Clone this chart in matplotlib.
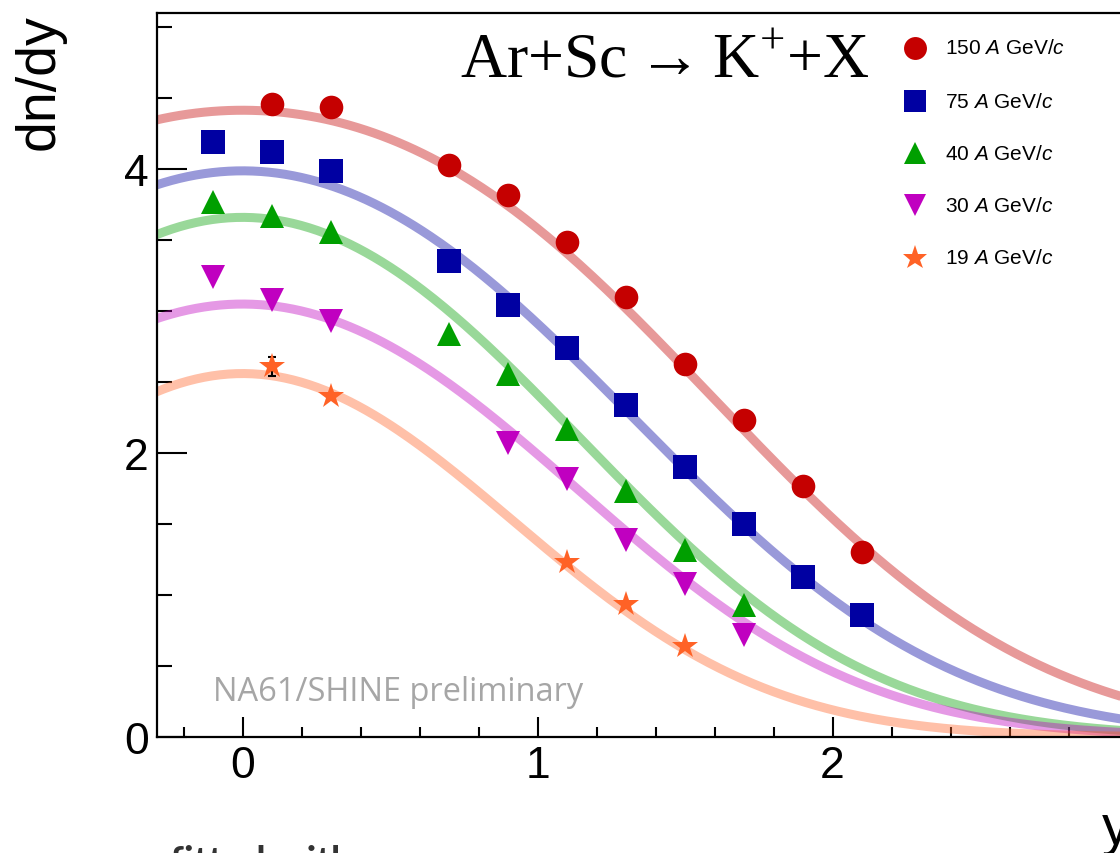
import numpy as np
import matplotlib.pyplot as plt
from matplotlib.ticker import MultipleLocator, FixedLocator

plt.rcParams['mathtext.fontset'] = 'custom'
plt.rcParams['mathtext.rm'] = 'Liberation Serif'
plt.rcParams['mathtext.it'] = 'Liberation Sans:italic'

# K+ rapidity spectra, Ar+Sc
energies = ['150', '75', '40', '30', '19']
colors = ['#c50000', '#0000a2', '#009f00', '#c000c0', '#ff6226']
markers = ['o', 's', '^', 'v', '*']
msizes = [17, 17, 17, 17, 19]

y_150 = [0.1, 0.3, 0.7, 0.9, 1.1, 1.3, 1.5, 1.7, 1.9, 2.1]
dndy_150 = [4.46, 4.44, 4.03, 3.82, 3.49, 3.10, 2.63, 2.23, 1.77, 1.30]

y_75 = [-0.1, 0.1, 0.3, 0.7, 0.9, 1.1, 1.3, 1.5, 1.7, 1.9, 2.1]
dndy_75 = [4.19, 4.12, 3.99, 3.35, 3.04, 2.74, 2.34, 1.90, 1.50, 1.13, 0.86]

y_40 = [-0.1, 0.1, 0.3, 0.7, 0.9, 1.1, 1.3, 1.5, 1.7]
dndy_40 = [3.77, 3.67, 3.56, 2.84, 2.56, 2.17, 1.73, 1.32, 0.93]

y_30 = [-0.1, 0.1, 0.3, 0.9, 1.1, 1.3, 1.5, 1.7]
dndy_30 = [3.24, 3.08, 2.93, 2.07, 1.82, 1.39, 1.08, 0.72]

y_19 = [0.1, 0.3, 1.1, 1.3, 1.5]
dndy_19 = [2.61, 2.40, 1.23, 0.94, 0.64]
err_19 = [0.065, 0.0, 0.0, 0.0, 0.0]

rap = [y_150, y_75, y_40, y_30, y_19]
dndy = [dndy_150, dndy_75, dndy_40, dndy_30, dndy_19]

# double-Gaussian fit parameters: A, y0, sigma
fit_amp = [3.04, 2.52, 2.235, 1.88, 1.46]
fit_y0 = [0.80, 0.65, 0.55, 0.55, 0.40]
fit_sigma = [1.00, 0.95, 0.87, 0.85, 0.78]


def double_gauss(y, a, y0, s):
    return a * (np.exp(-(y - y0) ** 2 / (2 * s ** 2)) +
                np.exp(-(y + y0) ** 2 / (2 * s ** 2)))


fig = plt.figure(figsize=(11.2, 8.54), dpi=100)
ax = fig.add_axes([157 / 1120, 1 - 738 / 854, 1030 / 1120, 724 / 854])

yy = np.linspace(-0.35, 3.3, 400)
for i in range(len(energies)):
    ax.plot(yy, double_gauss(yy, fit_amp[i], fit_y0[i], fit_sigma[i]),
            color=colors[i], alpha=0.4, lw=6.5, solid_capstyle='butt', zorder=2)

ax.errorbar(y_19, dndy_19, yerr=err_19, fmt='none', ecolor='black',
            elinewidth=1.5, capsize=3, capthick=1.5, zorder=3)

for i in range(len(energies)):
    ax.plot(rap[i], dndy[i], ls='none', marker=markers[i], ms=msizes[i],
            color=colors[i], mec=colors[i], mew=0, zorder=4)

ax.set_xlim(-0.29, -0.29 + 1030 / 295)
ax.set_ylim(0, 5.1)
ax.xaxis.set_major_locator(FixedLocator([0, 1, 2]))
ax.xaxis.set_minor_locator(MultipleLocator(0.2))
ax.yaxis.set_major_locator(MultipleLocator(2))
ax.yaxis.set_minor_locator(MultipleLocator(0.5))
ax.tick_params(axis='x', which='major', direction='in', length=14.5, width=1.5,
               labelsize=32, pad=6)
ax.tick_params(axis='x', which='minor', direction='in', length=7, width=1.5)
ax.tick_params(axis='y', which='major', direction='in', length=21.5, width=1.5,
               labelsize=32, pad=6)
ax.tick_params(axis='y', which='minor', direction='in', length=11, width=1.5)
for lab in ax.get_xticklabels() + ax.get_yticklabels():
    lab.set_family('Liberation Sans')
for sp in ax.spines.values():
    sp.set_linewidth(1.6)

# axis titles
fig.text(40 / 1120, 1 - 14 / 854, 'dn/dy', rotation=90, ha='center', va='top',
         fontsize=40, family='Liberation Sans')
fig.text(1102 / 1120, 1 - 844 / 854, 'y', ha='left', va='baseline',
         fontsize=40, family='Liberation Sans')

fig.text(460 / 1120, 1 - 77 / 854, r'Ar+Sc$\rightarrow$K$^{+}$+X',
         ha='left', va='baseline', fontsize=46, family='Liberation Serif')

ax.text(-0.10, 0.26, 'NA61/SHINE preliminary', color='#a6a6a6',
        fontsize=23.5, family='Open Sans', ha='left', va='baseline')

# legend
leg_y = [49, 102, 154, 206, 259]
for i in range(len(energies)):
    fy = 1 - leg_y[i] / 854
    fig.lines.append(plt.Line2D([915 / 1120], [fy], transform=fig.transFigure,
                                ls='none', marker=markers[i], ms=msizes[i] - 0.5,
                                color=colors[i], mew=0))
    fig.text(945 / 1120, fy, energies[i] + r' $\mathit{A}$ GeV/$\mathit{c}$',
             ha='left', va='center', fontsize=15, family='Liberation Sans')

fig.text(170 / 1120, 1 - 874 / 854, 'fitted with', color='#333333',
         fontsize=28, family='Lato', fontweight='bold', ha='left', va='baseline')

fig.savefig('out.png', dpi=100)
